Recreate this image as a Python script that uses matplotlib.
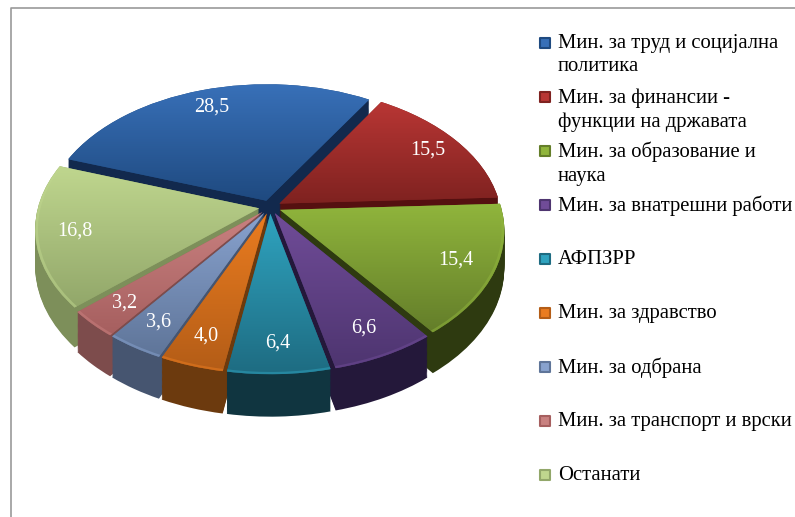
import numpy as np
import matplotlib
matplotlib.use('Agg')
import matplotlib.pyplot as plt
from matplotlib.colors import LinearSegmentedColormap
from matplotlib.transforms import Transform

names = ['Мин. за труд и социјална\nполитика',
         'Мин. за финансии -\nфункции на државата',
         'Мин. за образование и\nнаука',
         'Мин. за внатрешни работи',
         'АФПЗРР',
         'Мин. за здравство',
         'Мин. за одбрана',
         'Мин. за транспорт и врски',
         'Останати']
values = [28.5, 15.5, 15.4, 6.6, 6.4, 4.0, 3.6, 3.2, 16.8]
labels = ['28,5', '15,5', '15,4', '6,6', '6,4', '4,0', '3,6', '3,2', '16,8']

light = ['#3870b8', '#b83634', '#90b53c', '#704c98', '#2fa3bf', '#ea7c20', '#88a2ce', '#c98180', '#bfd68e']
dark = ['#1f4a80', '#7f2220', '#647e2a', '#4e3570', '#1e6c82', '#b45d17', '#5f7599', '#a65f5f', '#92a76a']
side = ['#12294d', '#551010', '#2e3a10', '#24183a', '#103540', '#6c3a0e', '#465570', '#7d4c4c', '#7d8f5a']

# back to front
draw_order = [0, 1, 8, 2, 7, 3, 6, 5, 4]
explode = [0.05] * 9
start = 161
depth = 36


class Tilt(Transform):
    # pie units -> picture pixels, with some perspective
    input_dims = 2
    output_dims = 2
    is_affine = False
    has_inverse = False

    def __init__(self, dz=0):
        super().__init__()
        self.dz = dz

    def transform_non_affine(self, values):
        x, y = values[:, 0], values[:, 1]
        w = 1 + 0.145 * y
        return np.column_stack([270 + 221 * x / w, 207 - (135 * y - self.dz) / w])


fig = plt.figure(figsize=(7.95, 5.17), dpi=100)
ax = fig.add_axes([0, 0, 1, 1])


def draw_pie(colors, **props):
    wedges, _ = ax.pie(values, explode=explode, startangle=start, counterclock=False,
                       colors=colors, radius=1, wedgeprops=props)
    return wedges


for dz in np.arange(depth, 0, -1):
    wedges = draw_pie(side)
    for i, w in enumerate(wedges):
        w.set_transform(Tilt(dz) + ax.transData)
        w.set_zorder(10 * draw_order.index(i) + 1)

top = draw_pie(dark)
tilt = Tilt()
for i, w in enumerate(top):
    w.set_transform(tilt + ax.transData)
    w.set_zorder(10 * draw_order.index(i) + 2)
    box = tilt.transform_path(w.get_path()).get_extents()
    cmap = LinearSegmentedColormap.from_list('g', [light[i], dark[i]])
    im = ax.imshow(np.linspace(0, 1, 64).reshape(-1, 1), cmap=cmap, aspect='auto',
                   extent=(box.x0, box.x1, box.y1, box.y0), zorder=10 * draw_order.index(i) + 3)
    im.set_clip_path(w)

    mid = np.radians((w.theta1 + w.theta2) / 2)
    pos = tilt.transform(np.array([[0.88 * np.cos(mid), 0.88 * np.sin(mid)]]))[0]
    ax.text(pos[0], pos[1], labels[i], color='white', fontsize=14.5, family='Liberation Serif',
            ha='center', va='center', zorder=200)

# soft bevel along the front rim
rim = draw_pie(light, width=0.012, alpha=0.5)
for i, w in enumerate(rim):
    w.set_transform(tilt + ax.transData)
    w.set_zorder(10 * draw_order.index(i) + 4)
    w.set_visible(i not in (0, 1))

# legend
legend_y = np.linspace(43, 475, len(names))
for i, name in enumerate(names):
    ax.scatter([545], [legend_y[i]], s=62, marker='s', color=light[i], edgecolors=dark[i],
               linewidths=1.5, zorder=200)
    ax.text(558, legend_y[i] - 9, name, fontsize=14.9, family='Liberation Serif', color='black',
            va='top', ha='left', linespacing=1.32, zorder=200)

ax.plot([11, 11, 795], [517, 8, 8], color='#999999', lw=1.2, zorder=1)
ax.set_aspect('auto')
ax.set_xlim(0, 795)
ax.set_ylim(517, 0)
ax.axis('off')

fig.savefig('out.png', dpi=100)
